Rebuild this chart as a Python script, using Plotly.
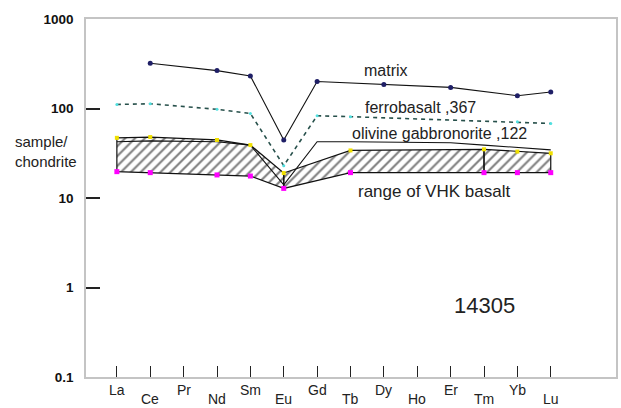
import plotly.graph_objects as go

# Rare earth elements, in order along the x axis
elements = ["La", "Ce", "Pr", "Nd", "Sm", "Eu", "Gd", "Tb", "Dy", "Ho", "Er", "Tm", "Yb", "Lu"]

# Chondrite-normalised abundances (None = not analysed)
matrix = [None, 320, None, 265, 231, 44.5, 200, None, 186, None, 172, None, 139, 153]
ferrobasalt_367 = [111, 113, None, 98, 88, 23, 83, 81, None, None, None, None, 71, 68]
olivine_gabbronorite_122 = [42.5, 43.5, None, 42.5, 39, 14, 42.5, 42.5, 42, None, 41.5, 39, 36.5, 34.5]
vhk_upper = [47, 48, None, 44.5, 39, 19, None, 34, None, None, None, 35, 33, 31.6]
vhk_lower = [19.7, 19.2, None, 18.1, 17.6, 12.8, None, 19.2, None, None, None, 19.2, 19.2, 19.2]

y_ticks = [0.1, 1, 10, 100, 1000]
y_tick_labels = ["0.1", "1", "10", "100", "1000"]

# The VHK basalt field is drawn as separate panels split at these elements
panel_breaks = ["Eu", "Tm"]

x = list(range(len(elements)))

fig = go.Figure()

# Hatched VHK basalt range
idx = [i for i in x if vhk_upper[i] is not None]
cuts = [elements.index(e) for e in panel_breaks]
bounds = [idx[0]] + cuts + [idx[-1]]
for a, b in zip(bounds[:-1], bounds[1:]):
    seg = [i for i in idx if a <= i <= b]
    px = seg + seg[::-1] + [seg[0]]
    py = [vhk_upper[i] for i in seg] + [vhk_lower[i] for i in seg[::-1]] + [vhk_upper[seg[0]]]
    fig.add_trace(go.Scatter(
        x=px, y=py, mode="lines", fill="toself",
        line=dict(color="#111111", width=1.2),
        fillcolor="rgba(0,0,0,0)",
        fillpattern=dict(shape="/", size=7, solidity=0.3, fgcolor="#000000",
                         bgcolor="rgba(0,0,0,0)"),
        hoverinfo="skip", showlegend=False,
    ))

# Olivine gabbronorite line
fig.add_trace(go.Scatter(
    x=x, y=olivine_gabbronorite_122, mode="lines", connectgaps=True,
    line=dict(color="#111111", width=1.1), showlegend=False,
))

# VHK bound markers
fig.add_trace(go.Scatter(
    x=x, y=vhk_upper, mode="markers",
    marker=dict(symbol="square", size=4, color="#f0e000"), showlegend=False,
))
fig.add_trace(go.Scatter(
    x=x, y=vhk_lower, mode="markers",
    marker=dict(symbol="square", size=5, color="#ff00ff"), showlegend=False,
))

# Ferrobasalt 367
fig.add_trace(go.Scatter(
    x=x, y=ferrobasalt_367, mode="lines+markers", connectgaps=True,
    line=dict(color="#27504b", width=1.6, dash="4px,4px"),
    marker=dict(size=3, color="#50e0e0"), showlegend=False,
))

# Matrix
fig.add_trace(go.Scatter(
    x=x, y=matrix, mode="lines+markers", connectgaps=True,
    line=dict(color="#111111", width=1.1),
    marker=dict(size=5, color="#1f1f66"), showlegend=False,
))

frame = "#c4c4c4"
fig.update_xaxes(
    range=[-0.925, 14.955], tickvals=x, showticklabels=False,
    ticks="inside", ticklen=11, tickwidth=1.2, tickcolor="#222222",
    showgrid=False, zeroline=False,
    showline=True, mirror=True, linecolor=frame, linewidth=1.5,
)
fig.update_yaxes(
    type="log", range=[-1, 3], tickvals=y_ticks, ticktext=y_tick_labels,
    ticks="inside", ticklen=14, tickwidth=1.5, tickcolor="#222222",
    tickfont=dict(family="Arial, Liberation Sans", size=13.5, color="#111111", weight="bold"),
    ticklabelstandoff=8,
    showgrid=False, zeroline=False,
    showline=True, mirror=True, linecolor=frame, linewidth=1.5,
)

font = "Arial, Liberation Sans"
annotations = []
# Element labels, staggered in two rows
for i, name in enumerate(elements):
    annotations.append(dict(
        x=i, y=0, xref="x", yref="paper", text=name, showarrow=False,
        yanchor="middle", yshift=-13 if i % 2 == 0 else -22,
        font=dict(family=font, size=14, color="#222222"),
    ))

# Series labels
for text, xp, yp, size in [
    ("matrix", 0.566, 0.857, 16),
    ("ferrobasalt ,367", 0.632, 0.754, 16),
    ("olivine gabbronorite ,122", 0.667, 0.679, 16),
    ("range of VHK basalt", 0.656, 0.517, 17),
]:
    annotations.append(dict(
        x=xp, y=yp, xref="paper", yref="paper", text=text, showarrow=False,
        xanchor="center", yanchor="middle",
        font=dict(family=font, size=size, color="#222222"),
    ))

annotations.append(dict(
    x=0.752, y=0.201, xref="paper", yref="paper", text="14305", showarrow=False,
    xanchor="center", yanchor="middle",
    font=dict(family=font, size=22, color="#222222"),
))

annotations.append(dict(
    x=-0.137, y=0.630, xref="paper", yref="paper", text="sample/<br>chondrite",
    showarrow=False, xanchor="left", yanchor="middle", align="left",
    font=dict(family=font, size=15, color="#222222"),
))

fig.update_layout(
    width=621, height=408,
    margin=dict(l=86, r=3, t=19, b=31),
    paper_bgcolor="white", plot_bgcolor="white",
    annotations=annotations,
)

fig.write_html("out.html")
